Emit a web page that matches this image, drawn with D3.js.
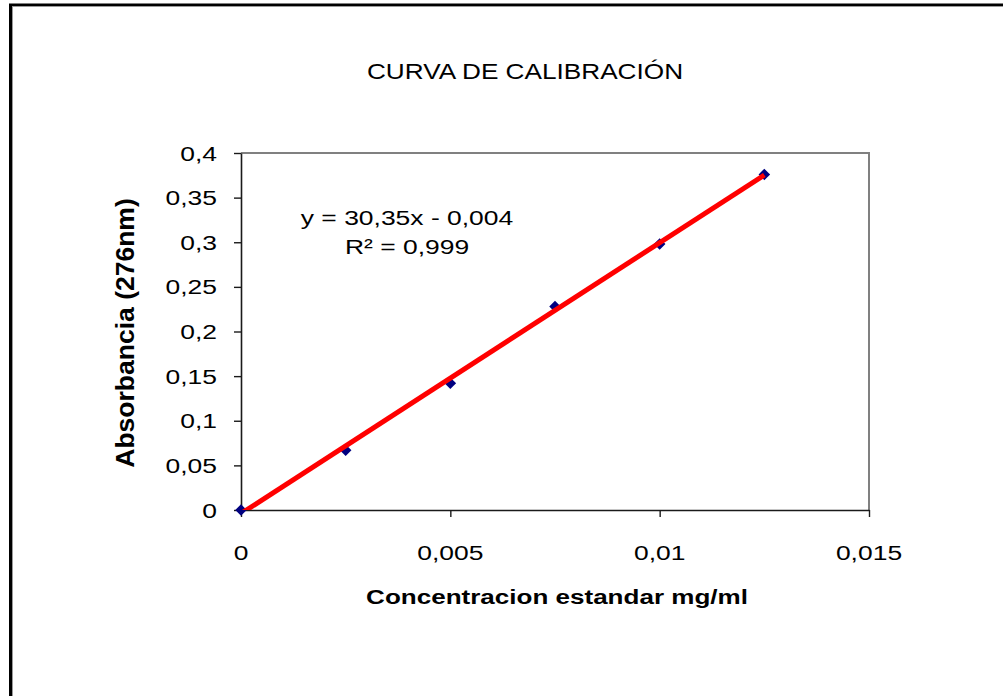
<!DOCTYPE html>
<html>
<head>
<meta charset="utf-8">
<script src="https://cdn.jsdelivr.net/npm/d3@7"></script>
<style>
  html, body { margin: 0; padding: 0; background: #fff; }
  svg { display: block; font-family: "Liberation Sans", Arial, sans-serif; }
</style>
</head>
<body>
<svg id="chart" width="1003" height="696"></svg>
<script>
// Calibration standards: concentration (mg/ml) and measured absorbance at 276 nm
const concentration = [0, 0.0025, 0.005, 0.0075, 0.01, 0.0125];
const absorbance    = [0, 0.067, 0.142, 0.228, 0.298, 0.376];

// Linear fit reported on the chart
const slope = 30.35;
const intercept = -0.004;
const r2 = 0.999;

const xTicks = [0, 0.005, 0.01, 0.015];
const yTicks = [0, 0.05, 0.1, 0.15, 0.2, 0.25, 0.3, 0.35, 0.4];

const titleText  = "CURVA DE CALIBRACIÓN";
const xTitleText = "Concentracion estandar mg/ml";
const yTitleText = "Absorbancia (276nm)";

// Spanish number formatting (decimal comma)
const es = d3.formatLocale({ decimal: ",", thousands: ".", grouping: [3], currency: ["", " €"] });
const fmt = es.format("~g");

const svg = d3.select("#chart");
const W = 1003, H = 696;

// Outer frame (runs past the right and bottom edges)
svg.append("rect")
  .attr("x", 10.5).attr("y", 5).attr("width", W + 20).attr("height", H + 20)
  .attr("fill", "#fff").attr("stroke", "#000").attr("stroke-width", 3);
svg.append("rect")
  .attr("x", 12.5).attr("y", 6.5).attr("width", W + 20).attr("height", H + 20)
  .attr("fill", "none").attr("stroke", "#9a9a9a").attr("stroke-width", 1);

const plot = { left: 241, top: 153, right: 869, bottom: 510 };

const x = d3.scaleLinear().domain([0, 0.015]).range([plot.left, plot.right]);
const y = d3.scaleLinear().domain([0, 0.4]).range([plot.bottom, plot.top]);

// Horizontal text is slightly widened
function hText(g, str, px, py, opts) {
  const sx = opts.sx || 1.26;
  return g.append("g").attr("transform", `translate(${px},${py}) scale(${sx},1)`)
    .append("text")
    .attr("text-anchor", opts.anchor || "middle")
    .attr("font-size", opts.size || 21)
    .attr("font-weight", opts.weight || "normal")
    .attr("fill", "#000")
    .text(str);
}

// Plot frame: grey on top and right
svg.append("path")
  .attr("d", `M${plot.left},${plot.top}H${plot.right}V${plot.bottom}`)
  .attr("fill", "none").attr("stroke", "#808080").attr("stroke-width", 2);

// Axes
const yAxis = d3.axisLeft(y).tickValues(yTicks).tickSize(7).tickSizeOuter(0).tickFormat("");
const xAxis = d3.axisBottom(x).tickValues(xTicks).tickSize(7).tickSizeOuter(0).tickFormat("");

const gy = svg.append("g").attr("transform", `translate(${plot.left},0)`).call(yAxis);
const gx = svg.append("g").attr("transform", `translate(0,${plot.bottom})`).call(xAxis);
[gy, gx].forEach(g => {
  g.select(".domain").attr("stroke", "#1a1a1a").attr("stroke-width", 1.6);
  g.selectAll(".tick line").attr("stroke", "#1a1a1a").attr("stroke-width", 1.4);
});

// Tick labels
const labels = svg.append("g");
yTicks.forEach(v => hText(labels, fmt(v), 217, y(v) + 7.5, { anchor: "end" }));
xTicks.forEach(v => hText(labels, fmt(v), x(v), 560, { anchor: "middle" }));

// Titles
hText(svg, titleText, 525, 79, { size: 22, sx: 1.19 });
hText(svg, xTitleText, 557, 604, { size: 21, sx: 1.24, weight: "bold" });
svg.append("text")
  .attr("transform", `translate(134,333) rotate(-90)`)
  .attr("text-anchor", "middle")
  .attr("font-size", 26.5)
  .attr("font-weight", "bold")
  .text(yTitleText);

// Clip for the trend line
svg.append("clipPath").attr("id", "plotClip")
  .append("rect")
  .attr("x", plot.left).attr("y", plot.top)
  .attr("width", plot.right - plot.left).attr("height", plot.bottom - plot.top);

// Data markers (navy diamonds)
const diamond = d3.symbol().type(d3.symbolDiamond2).size(85);
svg.append("g").selectAll("path")
  .data(concentration.map((c, i) => [c, absorbance[i]]))
  .join("path")
  .attr("d", diamond)
  .attr("transform", d => `translate(${x(d[0])},${y(d[1])})`)
  .attr("fill", "#000080");

// Linear trend line
const xMax = d3.max(concentration);
const fit = [0, xMax].map(c => [c, slope * c + intercept]);
svg.append("path")
  .attr("clip-path", "url(#plotClip)")
  .attr("d", d3.line().x(d => x(d[0])).y(d => y(d[1]))(fit))
  .attr("fill", "none")
  .attr("stroke", "#ff0000")
  .attr("stroke-width", 5);

// Equation label
const eq = svg.append("g");
hText(eq, `y = ${es.format(".2f")(slope)}x - ${es.format(".3f")(-intercept)}`, 407, 225, {});
hText(eq, `R² = ${es.format(".3f")(r2)}`, 407, 254, {});
</script>
</body>
</html>
